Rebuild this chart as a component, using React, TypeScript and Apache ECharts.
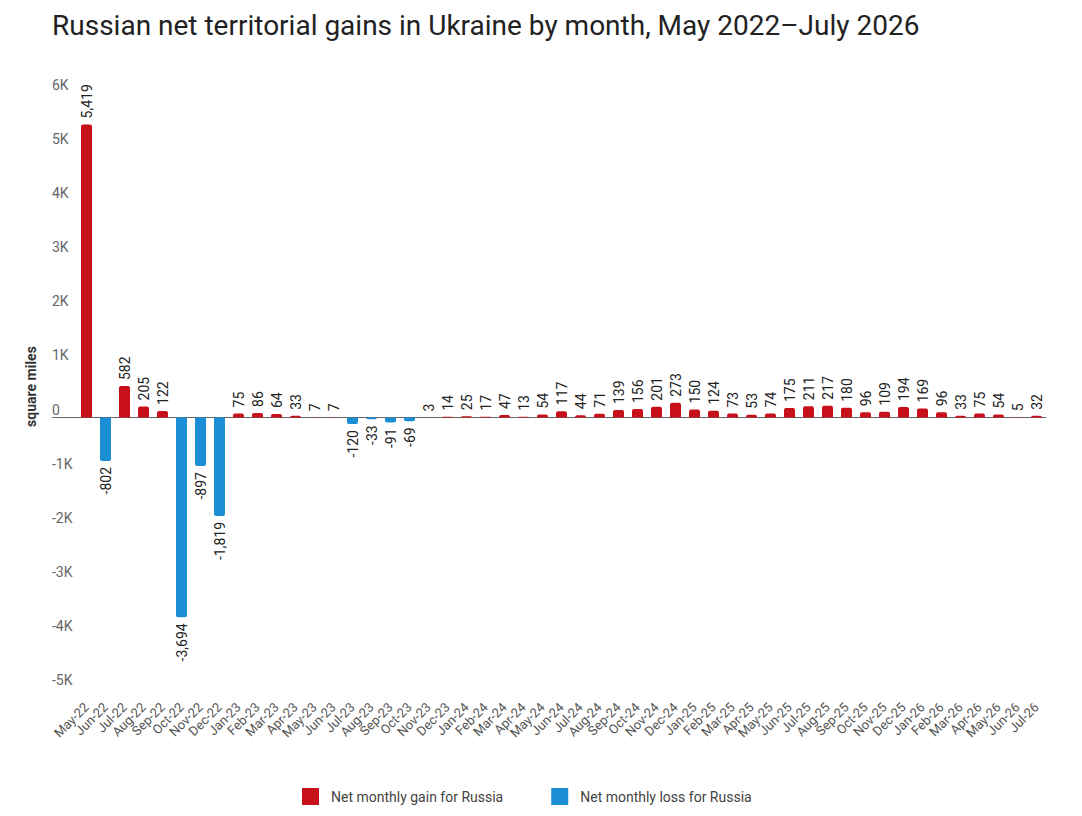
import React, { useEffect, useRef } from "react";
import * as echarts from "echarts";

const months: string[] = [
  "May-22", "Jun-22", "Jul-22", "Aug-22", "Sep-22", "Oct-22", "Nov-22", "Dec-22",
  "Jan-23", "Feb-23", "Mar-23", "Apr-23", "May-23", "Jun-23", "Jul-23", "Aug-23", "Sep-23", "Oct-23", "Nov-23", "Dec-23",
  "Jan-24", "Feb-24", "Mar-24", "Apr-24", "May-24", "Jun-24", "Jul-24", "Aug-24", "Sep-24", "Oct-24", "Nov-24", "Dec-24",
  "Jan-25", "Feb-25", "Mar-25", "Apr-25", "May-25", "Jun-25", "Jul-25", "Aug-25", "Sep-25", "Oct-25", "Nov-25", "Dec-25",
  "Jan-26", "Feb-26", "Mar-26", "Apr-26", "May-26", "Jun-26", "Jul-26",
];

const netChange: number[] = [
  5419, -802, 582, 205, 122, -3694, -897, -1819,
  75, 86, 64, 33, 7, 7, -120, -33, -91, -69, 3, 14,
  25, 17, 47, 13, 54, 117, 44, 71, 139, 156, 201, 273,
  150, 124, 73, 53, 74, 175, 211, 217, 180, 96, 109, 194,
  169, 96, 33, 75, 54, 5, 32,
];

const seriesNames = ["Net monthly gain for Russia", "Net monthly loss for Russia"];
const TITLE = "Russian net territorial gains in Ukraine by month, May 2022–July 2026";
const Y_NAME = "square miles";

const RED = "#c8101a";
const BLUE = "#1b8fd6";
const FONT = "Roboto, 'Noto Sans', sans-serif";

const fmt = (v: number) => v.toLocaleString("en-US");

export default function App() {
  const ref = useRef<HTMLDivElement>(null);
  useEffect(() => {
    if (!ref.current) return;
    const chart = echarts.init(ref.current, undefined, { renderer: "svg" });
    const gains = netChange.map((v) => (v > 0 ? v : "-"));
    const losses = netChange.map((v) => (v < 0 ? v : "-"));
    const labelBase = {
      show: true,
      rotate: 90,
      fontFamily: FONT,
      fontSize: 14,
      color: "#222",
      distance: 6,
      verticalAlign: "middle",
      formatter: (p: any) => fmt(p.value),
    };
    const option: any = {
      animation: false,
      backgroundColor: "#ffffff",
      textStyle: { fontFamily: FONT },
      title: {
        text: TITLE,
        left: 52,
        top: 11,
        padding: 0,
        textStyle: { fontFamily: FONT, fontSize: 28, fontWeight: "normal", color: "#222" },
      },
      legend: {
        left: 302,
        top: 788,
        padding: 0,
        itemWidth: 17,
        itemHeight: 17,
        itemGap: 48,
        icon: "rect",
        data: seriesNames,
        textStyle: { fontFamily: FONT, fontSize: 14, color: "#444", padding: [0, 0, 0, 7] },
      },
      grid: { left: 77, right: 36, top: 93, bottom: 128, containLabel: false },
      xAxis: [
        {
          type: "category",
          data: months,
          position: "bottom",
          axisLine: { show: false, onZero: false },
          axisTick: { show: false },
          axisLabel: {
            interval: 0,
            rotate: 45,
            margin: 17,
            fontFamily: FONT,
            fontSize: 13,
            color: "#555",
          },
        },
        {
          type: "category",
          data: months,
          position: "bottom",
          axisLine: { show: true, onZero: true, lineStyle: { color: "#666", width: 1 } },
          axisTick: { show: false },
          axisLabel: { show: false },
        },
      ],
      yAxis: {
        type: "value",
        min: -5000,
        max: 6000,
        interval: 1000,
        name: Y_NAME,
        nameLocation: "middle",
        nameRotate: 90,
        nameGap: 39,
        nameTextStyle: { fontFamily: FONT, fontSize: 14, fontWeight: "bold", color: "#333", padding: [0, 0, 0, 8] },
        splitLine: { show: false },
        axisLine: { show: false },
        axisTick: { show: false },
        axisLabel: {
          align: "left",
          verticalAlign: "bottom",
          margin: 25,
          padding: [0, 0, 1, 0],
          fontFamily: FONT,
          fontSize: 14,
          color: "#666",
          formatter: (v: number) => (v === 0 ? "0" : `${v / 1000}K`),
        },
      },
      series: [
        {
          name: seriesNames[0],
          type: "bar",
          data: gains,
          barWidth: 11,
          barGap: "-100%",
          itemStyle: { color: RED, borderRadius: [2, 2, 0, 0] },
          label: { ...labelBase, position: "top", align: "left" },
        },
        {
          name: seriesNames[1],
          type: "bar",
          data: losses,
          barWidth: 11,
          barGap: "-100%",
          itemStyle: { color: BLUE, borderRadius: [0, 0, 2, 2] },
          label: { ...labelBase, position: "bottom", align: "right" },
        },
      ],
    };
    chart.setOption(option);
    // extend the zero baseline to the left under the axis labels
    const y0 = chart.convertToPixel({ yAxisIndex: 0 }, 0) as number;
    const firstX = chart.convertToPixel({ xAxisIndex: 0 }, months[0]) as number;
    const catW = (chart.convertToPixel({ xAxisIndex: 0 }, months[1]) as number) - firstX;
    chart.setOption({
      graphic: [
        {
          type: "line",
          shape: { x1: 52, y1: y0, x2: firstX - catW / 2, y2: y0 },
          style: { stroke: "#666", lineWidth: 1 },
          silent: true,
        },
      ],
    });
    return () => chart.dispose();
  }, []);
  return <div ref={ref} style={{ width: 1082, height: 816, margin: -8 }} />;
}
